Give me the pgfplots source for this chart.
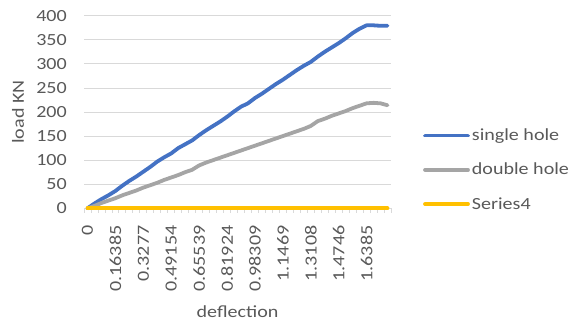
\documentclass[border=0pt]{standalone}
\usepackage{pgfplots}
\pgfplotsset{compat=1.18}
\usepackage{pgfplotstable}
\usepackage{fontspec}
\setmainfont[FakeStretch=1.18]{Carlito}
\definecolor{sblue}{HTML}{4472C4}
\definecolor{sgray}{HTML}{A5A5A5}
\definecolor{sgold}{HTML}{FFC000}
\definecolor{txtgray}{HTML}{595959}
\definecolor{gridgray}{HTML}{D9D9D9}

\pgfplotstableread{
idx single double series4
0 0 0 0
1 10 5 0
2 19 11 0
3 27 16 0
4 36 21 0
5 47 27 0
6 57 32 0
7 66 37 0
8 76 43 0
9 86 48 0
10 97 53 0
11 106 59 0
12 114 64 0
13 125 69 0
14 133 75 0
15 141 80 0
16 152 89 0
17 162 95 0
18 171 100 0
19 180 105 0
20 190 110 0
21 201 115 0
22 211 120 0
23 218 125 0
24 229 130 0
25 238 135 0
26 248 140 0
27 258 145 0
28 267 150 0
29 277 155 0
30 287 160 0
31 296 165 0
32 304 171 0
33 315 181 0
34 325 186 0
35 334 192 0
36 343 197 0
37 353 202 0
38 364 208 0
39 373 213 0
40 380 218 0
41 380 219 0
42 379 218 0
43 379 214 0
}\datatable

\begin{document}
\begin{tikzpicture}
\begin{axis}[
  at={(84pt,112.7pt)}, anchor=south west,
  scale only axis,
  width=307pt, height=192.6pt,
  xmin=-0.5, xmax=43.5,
  ymin=0, ymax=400,
  clip=false,
  ytick={0,50,...,400},
  xtick={0,4,...,40},
  xticklabels={0,0.16385,0.3277,0.49154,0.65539,0.81924,0.98309,1.1469,1.3108,1.4746,1.6385},
  minor xtick={-0.5,0.5,...,43.5},
  major tick length=0pt,
  minor tick length=4.5pt,
  tick align=outside,
  every tick/.style={color=gridgray, line width=0.8pt},
  axis x line*=bottom, axis y line*=left,
  x axis line style={draw=none},
  y axis line style={draw=none},
  ymajorgrids=true,
  major grid style={draw=gridgray, line width=0.8pt},
  font=\fontsize{17}{20}\selectfont,
  /pgf/number format/assume math mode=true,
  tick label style={text=txtgray, inner sep=0pt},
  xticklabel style={rotate=90, anchor=east},
  xticklabel shift=17pt,
  yticklabel shift=17pt,
  ylabel={load KN},
  xlabel={deflection},
  label style={text=txtgray},
  ylabel style={at={(axis description cs:-0.215,0.5)}, anchor=center, rotate=0},
  xlabel style={at={(axis description cs:0.5,-0.535)}, anchor=center},
  legend cell align=left,
  legend style={at={(axis description cs:1.104,0.2)}, anchor=west,
    draw=none, fill=none, inner sep=0pt, row sep=21pt,
    font=\fontsize{17}{20}\selectfont,
    nodes={inner xsep=2pt, inner ysep=0pt, text=txtgray}},
  legend image code/.code={\draw[#1, line width=3.8pt, line cap=round] (1pt,0pt) -- (44pt,0pt);},
  every axis plot/.append style={line width=3.8pt, line cap=round, line join=round},
]
\addplot[color=sblue] table[x=idx, y=single] {\datatable};
\addlegendentry{single hole}
\addplot[color=sgray] table[x=idx, y=double] {\datatable};
\addlegendentry{double hole}
\addplot[color=sgold] table[x=idx, y=series4] {\datatable};
\addlegendentry{Series4}
\end{axis}
\pgfresetboundingbox
\path[use as bounding box] (0,0) rectangle (577pt,321pt);
\end{tikzpicture}
\end{document}
